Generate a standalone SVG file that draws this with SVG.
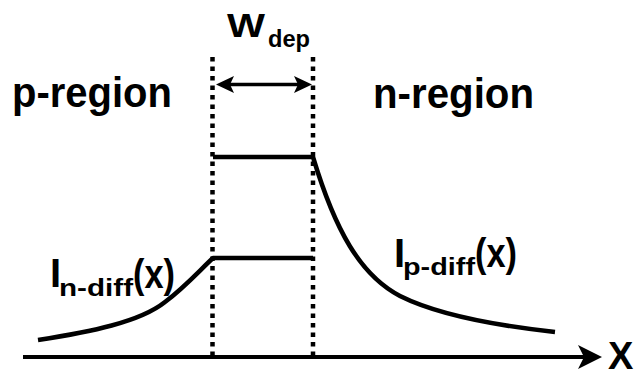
<svg xmlns="http://www.w3.org/2000/svg" width="635" height="376" viewBox="0 0 635 376">
<style>
  text { font-family: "Liberation Sans", Arial, sans-serif; font-weight: bold; fill: #000; }
  .big { font-size: 42px; }
  .dash { stroke: #000; stroke-width: 4.5; stroke-dasharray: 4.5 5; fill: none; }
  .curve { stroke: #000; stroke-width: 4.5; fill: none; stroke-linejoin: round; }
  .axis { stroke: #000; stroke-width: 4; fill: none; }
</style>
<rect width="635" height="376" fill="#fff"/>
<g id="labels">
  <text class="big" x="12" y="107" textLength="160" lengthAdjust="spacingAndGlyphs">p-region</text>
  <text class="big" x="373" y="108" textLength="161" lengthAdjust="spacingAndGlyphs">n-region</text>
  <g id="wdep">
    <text x="227" y="37" font-size="34" textLength="38" lengthAdjust="spacingAndGlyphs">W</text>
    <text x="268" y="47" font-size="23" textLength="42" lengthAdjust="spacingAndGlyphs">dep</text>
  </g>
  <g id="in-diff">
    <text x="50" y="287" font-size="40">I</text>
    <text x="59" y="296" font-size="24" textLength="74" lengthAdjust="spacingAndGlyphs">n-diff</text>
    <text x="133" y="288" font-size="41" textLength="42" lengthAdjust="spacingAndGlyphs">(x)</text>
  </g>
  <g id="ip-diff">
    <text x="394" y="267" font-size="40">I</text>
    <text x="403" y="275" font-size="24" textLength="72" lengthAdjust="spacingAndGlyphs">p-diff</text>
    <text x="475" y="267" font-size="41" textLength="42" lengthAdjust="spacingAndGlyphs">(x)</text>
  </g>
  <text x="608" y="369" font-size="38">X</text>
</g>
<g id="connectors">
  <line class="dash" x1="212.5" y1="57" x2="212.5" y2="357"/>
  <line class="dash" x1="313" y1="57" x2="313" y2="357"/>
  <line class="axis" x1="23" y1="357" x2="592" y2="357"/>
  <path d="M602,357 L578,345 L584,357 L578,369 Z" fill="#000"/>
  <line stroke="#000" stroke-width="3.5" x1="226" y1="84.5" x2="303" y2="84.5"/>
  <path d="M216,84.5 L234,76 L230,84.5 L234,93 Z" fill="#000"/>
  <path d="M312,84.5 L294,76 L298,84.5 L294,93 Z" fill="#000"/>
  <path class="curve" d="M213,157 L313,157 C335,230 360,275 400,296 C440,316 500,326 555,332"/>
  <path class="curve" d="M38,340 C90,332 140,322 165,302 C185,287 200,270 213,258 L313,258"/>
</g>
</svg>
